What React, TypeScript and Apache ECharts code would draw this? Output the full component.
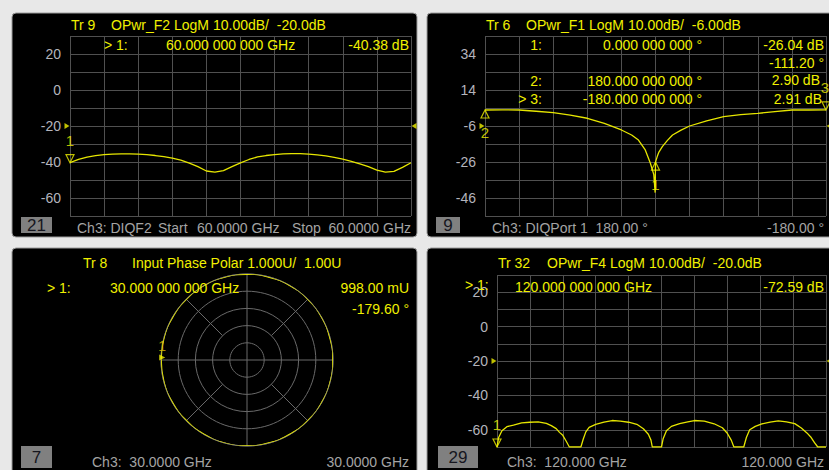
import React, { useEffect, useRef } from "react";
import * as echarts from "echarts";

// ---------- data ----------
// Panel 1: Tr 9 OPwr_F2 (x in graticule divisions 0..10)
const p1Div = [0, 0.25, 0.5, 0.75, 1, 1.25, 1.5, 1.75, 2, 2.25, 2.5, 2.75, 3, 3.25, 3.5, 3.75, 4, 4.25, 4.5, 4.75, 5, 5.25, 5.5, 5.75, 6, 6.25, 6.5, 6.75, 7, 7.25, 7.5, 7.75, 8, 8.25, 8.5, 8.75, 9, 9.25, 9.5, 9.75, 10];
const p1Level = [-40.38, -38.6, -37.3, -36.5, -35.9, -35.6, -35.5, -35.5, -35.6, -35.9, -36.4, -37.0, -37.8, -39.0, -40.6, -42.6, -45.0, -45.6, -44.8, -42.6, -40.5, -38.6, -37.2, -36.4, -35.9, -35.5, -35.4, -35.4, -35.6, -36.0, -36.6, -37.4, -38.4, -39.6, -41.0, -42.6, -44.5, -45.6, -45.2, -43.0, -40.4];
const p1YLabels = [20, 0, -20, -40, -60];

// Panel 2: Tr 6 OPwr_F1 (180 deg .. -180 deg over 10 divisions)
const p2Div = [0, 0.5, 1, 1.5, 2, 2.5, 3, 3.5, 4, 4.3, 4.5, 4.7, 4.85, 4.95, 4.99, 5.0, 5.05, 5.1, 5.2, 5.35, 5.5, 5.75, 6, 6.5, 7, 7.5, 8, 8.5, 9, 9.5, 10];
const p2Level = [2.9, 2.95, 2.9, 2.2, 1.4, 0.0, -1.7, -4.5, -8.2, -11, -13.8, -19.3, -26.7, -33, -43, -26.04, -23, -20.5, -17.5, -14, -11, -8.3, -6.0, -3.2, -0.8, 0.3, 1.0, 2.0, 2.9, 2.9, 2.91];
const p2YLabels = [34, 14, -6, -26, -46];

// Panel 3: Tr 8 Input Phase Polar (radius U, angle deg)
const p3Angle = [-180, -165, -150, -135, -120, -105, -90, -75, -60, -45, -30, -15, 0, 15, 30, 45, 60, 75, 90, 105, 120, 135, 150, 165, 179.6];
const p3Radius = [0.998, 0.999, 0.997, 0.996, 0.998, 1.0, 0.999, 0.997, 0.996, 0.998, 0.999, 1.0, 0.998, 0.997, 0.999, 1.0, 0.998, 0.996, 0.997, 0.999, 1.0, 0.998, 0.997, 0.999, 0.998];
const p3Diagonals = [45, 135, -45, -135];

// Panel 4: Tr 32 OPwr_F4
const p4Div = [0, 0.05, 0.15, 0.3, 0.5, 0.75, 1, 1.25, 1.5, 1.65, 1.8, 1.9, 2.0, 2.1, 2.2, 2.55, 2.62, 2.7, 2.8, 3.0, 3.25, 3.5, 3.75, 4.0, 4.25, 4.45, 4.6, 4.68, 4.72, 5.0, 5.05, 5.15, 5.3, 5.55, 5.8, 6.0, 6.3, 6.6, 6.85, 7.0, 7.12, 7.2, 7.5, 7.58, 7.68, 7.85, 8.05, 8.3, 8.55, 8.8, 9.05, 9.25, 9.42, 9.55, 9.65, 9.75, 10];
const p4Level = [-70, -64.5, -60.5, -58.2, -57.3, -56.0, -55.6, -55.4, -56.3, -57.6, -59.3, -61.5, -63.2, -66.5, -70, -70, -65.5, -61.2, -58.6, -56.8, -55.6, -54.6, -54.9, -55.6, -56.8, -59.4, -62.6, -66.0, -70, -70, -65.2, -60.6, -58.0, -56.4, -55.4, -54.6, -55.0, -56.5, -58.8, -62.0, -66.0, -70, -70, -64.5, -60.0, -58.0, -56.6, -55.6, -54.8, -55.4, -56.4, -59.0, -61.8, -64.5, -67.5, -70, -70];
const p4YLabels = [20, 0, -20, -40, -60];

// ---------- styling ----------
const YELLOW = "#f0f000";
const TRACE = "#e6e600";
const GRIDC = "#505050";
const POLARC = "#6a6a6a";
const LABELC = "#b4b4bc";
const FOOTC = "#a4a4a4";
const FONT = '"Liberation Sans", Arial, sans-serif';

function txt(text: string, x: number, y: number, align: string, color: string, size = 14) {
  return {
    type: "text",
    x,
    y,
    z: 50,
    silent: true,
    style: {
      text,
      fill: color,
      font: `${size}px ${FONT}`,
      textAlign: align,
      textVerticalAlign: "middle",
      align,
      verticalAlign: "middle",
    },
  };
}

function panel(x: number, y: number, w: number, h: number) {
  return {
    type: "rect",
    z: -10,
    silent: true,
    shape: { x, y, width: w, height: h, r: 4 },
    style: { fill: "#000000", stroke: "#9c9c9c", lineWidth: 1 },
  };
}

function box(x: number, y: number, w: number, h: number, label: string) {
  return [
    {
      type: "rect",
      z: 40,
      silent: true,
      shape: { x, y, width: w, height: h },
      style: { fill: "#808080" },
    },
    txt(label, x + w / 2, y + h / 2 + 0.5, "center", "#16161e", 17),
  ];
}

function makeXAxis(gridIndex: number) {
  return {
    type: "value",
    gridIndex,
    min: 0,
    max: 10,
    interval: 1,
    axisLine: { show: false },
    axisTick: { show: false },
    axisLabel: { show: false },
    splitLine: { show: true, lineStyle: { color: GRIDC, width: 1 } },
  };
}

function makeYAxis(gridIndex: number, min: number, max: number, labels: number[]) {
  return {
    type: "value",
    gridIndex,
    min,
    max,
    interval: 10,
    axisLine: { show: false },
    axisTick: { show: false },
    axisLabel: {
      show: true,
      margin: 9,
      color: LABELC,
      fontFamily: FONT,
      fontSize: 14,
      formatter: (v: number) => (labels.includes(Math.round(v)) ? String(Math.round(v)) : ""),
    },
    splitLine: { show: true, lineStyle: { color: GRIDC, width: 1 } },
  };
}

function zip(a: number[], b: number[]) {
  return a.map((v, i) => [v, b[i]]);
}

function marker(
  axisIdx: number,
  x: number,
  y: number,
  label: string,
  active: boolean,
  labelOffset: number[] = [0, 0]
) {
  return {
    type: "scatter",
    xAxisIndex: axisIdx,
    yAxisIndex: axisIdx,
    clip: false,
    z: 5,
    data: [[x, y]],
    symbol: "triangle",
    symbolSize: [8, 8],
    symbolRotate: active ? 180 : 0,
    symbolOffset: [0, active ? -4 : 4],
    itemStyle: { color: "rgba(0,0,0,0)", borderColor: YELLOW, borderWidth: 1.2 },
    label: {
      show: true,
      formatter: label,
      position: active ? "top" : "bottom",
      distance: 6,
      offset: labelOffset,
      color: YELLOW,
      fontFamily: FONT,
      fontSize: 15,
    },
  };
}

function refArrows(axisIdx: number, level: number) {
  return [
    {
      type: "scatter",
      xAxisIndex: axisIdx,
      yAxisIndex: axisIdx,
      clip: false,
      z: 5,
      data: [[0, level]],
      symbol: "triangle",
      symbolSize: [6, 5],
      symbolRotate: -90,
      symbolOffset: [-3, 0],
      itemStyle: { color: YELLOW },
    },
    {
      type: "scatter",
      xAxisIndex: axisIdx,
      yAxisIndex: axisIdx,
      clip: false,
      z: 5,
      data: [[10, level]],
      symbol: "triangle",
      symbolSize: [6, 5],
      symbolRotate: 90,
      symbolOffset: [3, 0],
      itemStyle: { color: YELLOW },
    },
  ];
}

function traceLine(axisIdx: number, data: number[][]) {
  return {
    type: "line",
    xAxisIndex: axisIdx,
    yAxisIndex: axisIdx,
    data,
    showSymbol: false,
    symbol: "none",
    z: 3,
    lineStyle: { color: TRACE, width: 1.3 },
  };
}

export default function App() {
  const ref = useRef<HTMLDivElement>(null);

  useEffect(() => {
    if (!ref.current) return;
    const chart = echarts.init(ref.current, undefined, { renderer: "svg" });

    const graphics: any[] = [
      panel(12, 13, 405, 224),
      panel(427, 13, 410, 224),
      panel(12, 248, 405, 232),
      panel(427, 248, 410, 232),
      // Panel 1 texts
      txt("Tr 9", 71, 25, "left", YELLOW),
      txt("OPwr_F2 LogM 10.00dB/  -20.0dB", 111, 25, "left", YELLOW),
      txt("> 1:", 104, 45, "left", YELLOW),
      txt("60.000 000 000 GHz", 166, 45, "left", YELLOW),
      txt("-40.38 dB", 409, 45, "right", YELLOW),
      ...box(21, 217, 31, 16, "21"),
      txt("Ch3: DIQF2", 77, 228, "left", FOOTC),
      txt("Start", 158, 228, "left", FOOTC),
      txt("60.0000 GHz", 197, 228, "left", FOOTC),
      txt("Stop", 292, 228, "left", FOOTC),
      txt("60.0000 GHz", 411, 228, "right", FOOTC),
      // Panel 2 texts
      txt("Tr 6", 486, 25, "left", YELLOW),
      txt("OPwr_F1 LogM 10.00dB/  -6.00dB", 526, 25, "left", YELLOW),
      txt("1:", 542, 45, "right", YELLOW),
      txt("0.000 000 000 °", 702, 45, "right", YELLOW),
      txt("-26.04 dB", 824, 45, "right", YELLOW),
      txt("-111.20 °", 824, 63, "right", YELLOW),
      txt("2:", 542, 81, "right", YELLOW),
      txt("180.000 000 000 °", 702, 81, "right", YELLOW),
      txt("2.90 dB", 820, 80, "right", YELLOW),
      txt("> 3:", 542, 99, "right", YELLOW),
      txt("-180.000 000 000 °", 702, 99, "right", YELLOW),
      txt("2.91 dB", 822, 99, "right", YELLOW),
      ...box(436, 217, 24, 16, "9"),
      txt("Ch3: DIQPort 1  180.00 °", 492, 228, "left", FOOTC),
      txt("-180.00 °", 824, 228, "right", FOOTC),
      // Panel 3 texts
      txt("Tr 8", 83, 263, "left", YELLOW),
      txt("Input Phase Polar 1.000U/  1.00U", 132, 263, "left", YELLOW),
      txt("> 1:", 47, 288, "left", YELLOW),
      txt("30.000 000 000 GHz", 110, 288, "left", YELLOW),
      txt("998.00 mU", 409, 288, "right", YELLOW),
      txt("-179.60 °", 409, 309, "right", YELLOW),
      ...box(21, 446, 31, 22, "7"),
      txt("Ch3:  30.0000 GHz", 92, 462, "left", FOOTC),
      txt("30.0000 GHz", 409, 462, "right", FOOTC),
      // Panel 4 texts
      txt("Tr 32", 498, 263, "left", YELLOW),
      txt("OPwr_F4 LogM 10.00dB/  -20.0dB", 547, 263, "left", YELLOW),
      txt("> 1:", 465, 285, "left", YELLOW),
      txt("120.000 000 000 GHz", 515, 287, "left", YELLOW),
      txt("-72.59 dB", 824, 287, "right", YELLOW),
      ...box(438, 446, 40, 22, "29"),
      txt("Ch3:  120.000 GHz", 507, 462, "left", FOOTC),
      txt("120.000 GHz", 824, 462, "right", FOOTC),
    ];

    const polarData = zip(p3Radius, p3Angle);

    const diagSeries = p3Diagonals.map((a) => ({
      type: "line",
      coordinateSystem: "polar",
      polarIndex: 0,
      data: [
        [0.4, a],
        [1.0, a],
      ],
      showSymbol: false,
      symbol: "none",
      silent: true,
      z: 1,
      lineStyle: { color: POLARC, width: 1 },
    }));

    const option: any = {
      animation: false,
      backgroundColor: "transparent",
      textStyle: { fontFamily: FONT },
      grid: [
        { left: 70, top: 36, width: 341, height: 180, containLabel: false, outerBoundsMode: "none" },
        { left: 485, top: 36, width: 341, height: 180, containLabel: false, outerBoundsMode: "none" },
        { left: 497, top: 275, width: 329, height: 172, containLabel: false, outerBoundsMode: "none" },
      ],
      xAxis: [makeXAxis(0), makeXAxis(1), makeXAxis(2)],
      yAxis: [
        makeYAxis(0, -70, 30, p1YLabels),
        makeYAxis(1, -56, 44, p2YLabels),
        makeYAxis(2, -70, 30, p4YLabels),
      ],
      polar: { center: [247, 360], radius: 86 },
      angleAxis: {
        type: "value",
        min: -180,
        max: 180,
        interval: 90,
        startAngle: 180,
        clockwise: false,
        axisLine: { show: true, lineStyle: { color: POLARC, width: 1 } },
        axisTick: { show: false },
        axisLabel: { show: false },
        splitLine: { show: true, lineStyle: { color: POLARC, width: 1 } },
      },
      radiusAxis: {
        type: "value",
        min: 0,
        max: 1,
        interval: 0.2,
        axisLine: { show: false },
        axisTick: { show: false },
        axisLabel: { show: false },
        splitLine: { show: true, lineStyle: { color: POLARC, width: 1 } },
      },
      graphic: { elements: graphics },
      series: [
        traceLine(0, zip(p1Div, p1Level)),
        marker(0, 0, -40.38, "1", true),
        ...refArrows(0, -20),
        traceLine(1, zip(p2Div, p2Level)),
        marker(1, 5.0, -26.04, "1", false),
        marker(1, 0, 2.9, "2", false),
        marker(1, 10, 2.91, "3", true, [-1, 0]),
        ...refArrows(1, -6),
        traceLine(2, zip(p4Div, p4Level)),
        marker(2, 0, -70, "1", true),
        ...refArrows(2, -20),
        ...diagSeries,
        {
          type: "line",
          coordinateSystem: "polar",
          polarIndex: 0,
          data: polarData,
          showSymbol: false,
          symbol: "none",
          smooth: true,
          z: 3,
          lineStyle: { color: TRACE, width: 1.3 },
        },
        {
          type: "scatter",
          coordinateSystem: "polar",
          polarIndex: 0,
          data: [[0.998, -179.6]],
          symbol: "triangle",
          symbolSize: [6, 6],
          symbolRotate: -90,
          symbolOffset: [1, -3],
          z: 5,
          itemStyle: { color: YELLOW },
          label: {
            show: true,
            formatter: "1",
            position: "top",
            distance: 2,
            color: "#e0c000",
            fontFamily: FONT,
            fontSize: 14,
          },
        },
      ],
    };

    chart.setOption(option);
    return () => chart.dispose();
  }, []);

  return (
    <div
      style={{
        position: "absolute",
        left: 0,
        top: 0,
        width: 829,
        height: 470,
        background: "#e8e8e8",
        overflow: "hidden",
      }}
    >
      <div ref={ref} style={{ width: 829, height: 470 }} />
    </div>
  );
}
